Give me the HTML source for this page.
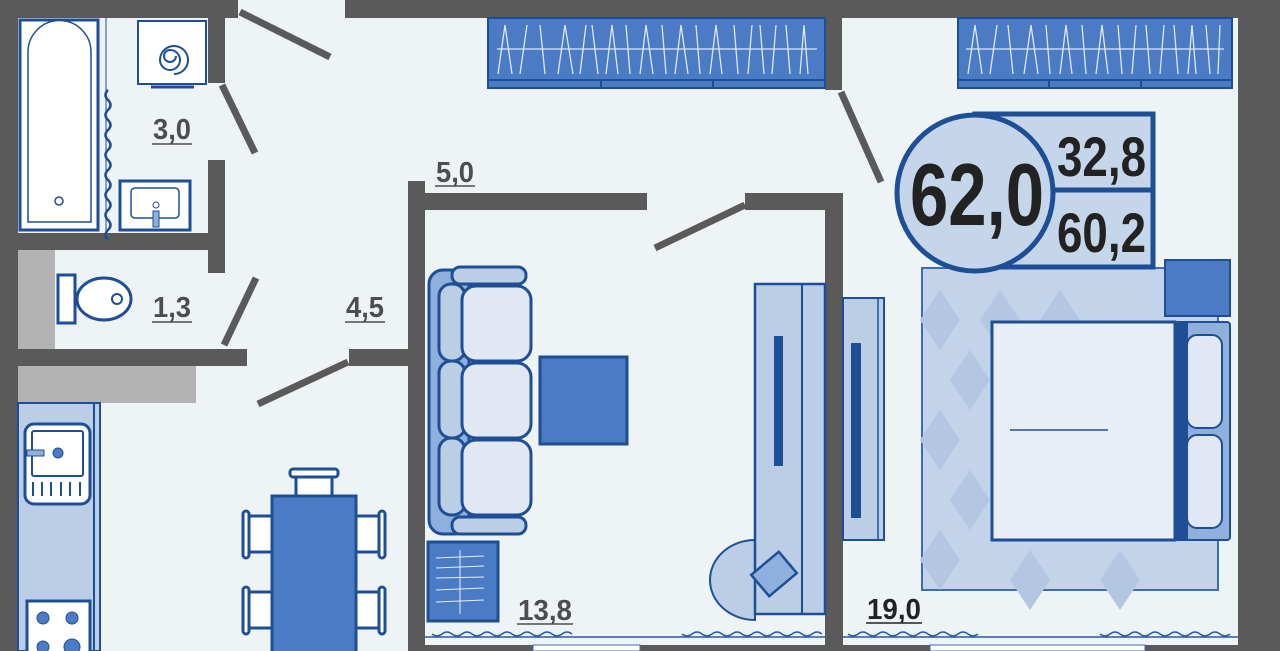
<!DOCTYPE html>
<html><head><meta charset="utf-8"><style>
html,body{margin:0;padding:0;width:1280px;height:651px;overflow:hidden;background:#eef3f6}
svg{display:block}
.lb{font-family:"Liberation Sans",sans-serif;fill:#4d4d4d;font-size:29px;font-weight:bold}
</style></head><body>
<svg width="1280" height="651" viewBox="0 0 1280 651" xmlns="http://www.w3.org/2000/svg">
<rect width="1280" height="651" fill="#eef3f6"/>
<rect x="18" y="250" width="37" height="99" fill="#b3b3b3"/>
<rect x="18" y="366" width="178" height="37" fill="#b3b3b3"/>
<rect x="922" y="268" width="296" height="322" fill="#c2d3ea" stroke="#3f6db3" stroke-width="2"/>
<g fill="#b3c6e2">
<path d="M940 290 l20 30 -20 30 -20-30z M1000 290 l20 30 -20 30 -20-30z M1060 290 l20 30 -20 30 -20-30z M970 350 l20 30 -20 30 -20-30z M940 410 l20 30 -20 30 -20-30z M970 470 l20 30 -20 30 -20-30z M940 530 l20 30 -20 30 -20-30z M1030 550 l20 30 -20 30 -20-30z M1120 550 l20 30 -20 30 -20-30z"/>
</g>
<g fill="#5a5a5a">
<rect x="0" y="0" width="18" height="651"/>
<rect x="0" y="0" width="238" height="18"/>
<rect x="345" y="0" width="935" height="18"/>
<rect x="1238" y="0" width="42" height="651"/>
<rect x="208" y="0" width="17" height="83"/>
<rect x="208" y="160" width="17" height="113"/>
<rect x="18" y="233" width="207" height="17"/>
<rect x="18" y="349" width="229" height="17"/>
<rect x="349" y="349" width="76" height="17"/>
<rect x="408" y="181" width="17" height="470"/>
<rect x="408" y="193" width="239" height="17"/>
<rect x="745" y="193" width="98" height="17"/>
<rect x="825" y="193" width="18" height="458"/>
<rect x="825" y="18" width="17" height="72"/>
<rect x="408" y="645" width="872" height="6"/>
</g>
<rect x="533" y="645" width="107" height="6" fill="#fff" stroke="#3f6db3"/>
<rect x="930" y="645" width="215" height="6" fill="#fff" stroke="#3f6db3"/>
<g stroke="#5a5a5a" stroke-width="7">
<line x1="240" y1="12" x2="330" y2="57"/>
<line x1="222" y1="85" x2="255" y2="153"/>
<line x1="256" y1="278" x2="224" y2="345"/>
<line x1="348" y1="362" x2="258" y2="404"/>
<line x1="745" y1="205" x2="655" y2="248"/>
<line x1="841" y1="92" x2="881" y2="182"/>
</g>
<g stroke="#2a5ba3" stroke-width="1.5" fill="none">
<line x1="425" y1="637" x2="825" y2="637"/>
<line x1="843" y1="637" x2="1238" y2="637"/>
<path d="M432 634 q5 4 10 0 t10 0 t10 0 t10 0 t10 0 t10 0 t10 0 t10 0 t10 0 t10 0 t10 0 t10 0 t10 0 t10 0"/>
<path d="M682 634 q5 4 10 0 t10 0 t10 0 t10 0 t10 0 t10 0 t10 0 t10 0 t10 0 t10 0 t10 0 t10 0 t10 0 t10 0"/>
<path d="M848 634 q5 4 10 0 t10 0 t10 0 t10 0 t10 0 t10 0 t10 0 t10 0 t10 0 t10 0 t10 0 t10 0 t10 0"/>
<path d="M1100 634 q5 4 10 0 t10 0 t10 0 t10 0 t10 0 t10 0 t10 0 t10 0 t10 0 t10 0 t10 0 t10 0 t10 0"/>
</g>
<g stroke="#1e4f96" stroke-width="2">
<rect x="488" y="18" width="337" height="70" fill="#4a7bc4"/>
<rect x="958" y="18" width="274" height="70" fill="#4a7bc4"/>
<line x1="488" y1="80" x2="825" y2="80"/><line x1="958" y1="80" x2="1232" y2="80"/>
<line x1="601" y1="80" x2="601" y2="88"/><line x1="713" y1="80" x2="713" y2="88"/>
<line x1="1049" y1="80" x2="1049" y2="88"/><line x1="1141" y1="80" x2="1141" y2="88"/>
</g>
<g stroke="#dfe8f5" stroke-width="1.3" fill="none">
<line x1="497" y1="49" x2="817" y2="49"/><line x1="966" y1="49" x2="1224" y2="49"/>
<path d="M498 74 L505 25 L512 74 M520 74 L527 25 M540 25 L545 74 M558 74 L565 25 L573 74 M580 74 L586 25 M592 25 L598 74 M606 74 L612 25 L618 74 M626 25 L630 74 M640 74 L646 25 L653 74 M662 25 L666 74 M675 74 L681 25 L688 74 M696 25 L700 74 M710 74 L716 25 L722 74 M734 25 L738 74 M748 74 L752 25 M760 25 L764 74 M772 74 L776 25 M786 25 L790 74 M800 74 L804 25 L808 74"/>
<path d="M968 74 L975 25 L982 74 M990 74 L997 25 M1008 25 L1013 74 M1024 74 L1031 25 L1038 74 M1046 25 L1050 74 M1060 74 L1066 25 L1072 74 M1082 25 L1086 74 M1096 74 L1102 25 L1108 74 M1118 25 L1122 74 M1132 74 L1136 25 M1146 25 L1150 74 M1160 74 L1164 25 M1174 25 L1178 74 M1188 74 L1192 25 L1196 74 M1206 25 L1210 74 M1218 74 L1220 25"/>
</g>
<g stroke="#1e4f96" fill="#fff">
<rect x="20" y="20" width="78" height="210" stroke-width="3"/>
<path d="M28 222 V52 a26 26 0 0 1 63 0 V222 z" stroke-width="1.5"/>
<circle cx="59" cy="201" r="4" stroke-width="1.5"/>
<rect x="138" y="21" width="68" height="63" stroke-width="2"/>
<line x1="151" y1="87" x2="194" y2="87" stroke-width="3"/>
<rect x="120" y="181" width="70" height="49" stroke-width="3"/>
<rect x="131" y="188" width="48" height="30" rx="4" stroke-width="1.5"/>
</g>
<path d="M176 56 a6 6 0 1 1 -6 -6 a10 10 0 1 1 -10 10 a14 14 0 1 1 14 14" fill="none" stroke="#1e4f96" stroke-width="2"/>
<line x1="106" y1="18" x2="106" y2="233" stroke="#1e4f96" stroke-width="1"/>
<path d="M108 90 q-5 5 0 10 t0 10 t0 10 t0 10 t0 10 t0 10 t0 10 t0 10 t0 10 t0 10 t0 10 t0 10 t0 10 t0 10 t0 10" fill="none" stroke="#1e4f96" stroke-width="2.5"/>
<rect x="153" y="211" width="6" height="16" fill="#8fb0dd" stroke="#1e4f96"/>
<circle cx="156" cy="205" r="3" fill="#fff" stroke="#1e4f96"/>
<g stroke="#1e4f96" stroke-width="3" fill="#fff">
<rect x="58" y="275" width="17" height="48"/>
<ellipse cx="104" cy="299" rx="27" ry="21"/>
<ellipse cx="117" cy="299" rx="5" ry="5" stroke-width="2"/>
</g>
<rect x="18" y="403" width="82" height="248" fill="#bccde6" stroke="#1e4f96" stroke-width="2"/>
<line x1="94" y1="403" x2="94" y2="651" stroke="#1e4f96" stroke-width="2"/>
<rect x="25" y="424" width="65" height="80" rx="9" fill="#fff" stroke="#1e4f96" stroke-width="3"/>
<rect x="32" y="431" width="51" height="45" rx="2" fill="#fff" stroke="#1e4f96" stroke-width="2"/>
<circle cx="58" cy="453" r="5" fill="#4a7bc4" stroke="#1e4f96"/>
<rect x="27" y="450" width="17" height="6" fill="#8fb0dd" stroke="#1e4f96"/>
<g stroke="#1e4f96" stroke-width="2"><line x1="33" y1="482" x2="33" y2="496"/><line x1="42" y1="482" x2="42" y2="496"/><line x1="51" y1="482" x2="51" y2="496"/><line x1="61" y1="482" x2="61" y2="496"/><line x1="70" y1="482" x2="70" y2="496"/><line x1="80" y1="482" x2="80" y2="496"/></g>
<rect x="27" y="601" width="63" height="55" fill="#fff" stroke="#1e4f96" stroke-width="3"/>
<g fill="#4a7bc4" stroke="#1e4f96"><circle cx="43" cy="618" r="6"/><circle cx="72" cy="618" r="6"/><circle cx="43" cy="647" r="6"/><circle cx="72" cy="647" r="8"/></g>
<g stroke="#1e4f96" stroke-width="3" fill="#fff">
<rect x="296" y="477" width="36" height="20"/>
<rect x="290" y="469" width="48" height="8" rx="3"/>
<rect x="248" y="516" width="24" height="36"/><rect x="243" y="511" width="6" height="47" rx="3"/>
<rect x="248" y="592" width="24" height="36"/><rect x="243" y="587" width="6" height="47" rx="3"/>
<rect x="356" y="516" width="24" height="36"/><rect x="379" y="511" width="6" height="47" rx="3"/>
<rect x="356" y="592" width="24" height="36"/><rect x="379" y="587" width="6" height="47" rx="3"/>
<rect x="272" y="496" width="84" height="160" fill="#4a7bc4"/>
</g>
<g stroke="#1e4f96" stroke-width="3">
<rect x="429" y="270" width="40" height="264" rx="14" fill="#8fb0dd"/>
<rect x="452" y="267" width="74" height="17" rx="8" fill="#bccde6"/>
<rect x="452" y="517" width="74" height="17" rx="8" fill="#bccde6"/>
<rect x="439" y="284" width="26" height="77" rx="12" fill="#bccde6"/>
<rect x="439" y="361" width="26" height="77" rx="12" fill="#bccde6"/>
<rect x="439" y="438" width="26" height="77" rx="12" fill="#bccde6"/>
<rect x="462" y="286" width="69" height="75" rx="14" fill="#e1e8f3"/>
<rect x="462" y="363" width="69" height="75" rx="14" fill="#e1e8f3"/>
<rect x="462" y="440" width="69" height="75" rx="14" fill="#e1e8f3"/>
<rect x="540" y="357" width="87" height="87" fill="#4a7bc4"/>
<rect x="428" y="542" width="70" height="79" fill="#4a7bc4"/>
</g>
<g stroke="#e6eef8" stroke-width="1"><line x1="436" y1="558" x2="484" y2="556"/><line x1="436" y1="568" x2="484" y2="566"/><line x1="436" y1="578" x2="484" y2="577"/><line x1="436" y1="590" x2="484" y2="588"/><line x1="436" y1="602" x2="484" y2="600"/><line x1="460" y1="550" x2="460" y2="614"/></g>
<path d="M755 540 a45 40 0 0 0 0 80 z" fill="#bccde6" stroke="#1e4f96" stroke-width="2"/>
<rect x="755" y="284" width="70" height="330" fill="#bccde6" stroke="#1e4f96" stroke-width="2.5"/>
<line x1="802" y1="284" x2="802" y2="614" stroke="#1e4f96" stroke-width="2"/>
<rect x="774" y="336" width="9" height="130" fill="#1e4f96"/>
<rect x="756" y="560" width="36" height="28" fill="#8fb0dd" stroke="#1e4f96" stroke-width="2.5" transform="rotate(-40 774 574)"/>
<rect x="843" y="298" width="41" height="242" fill="#bccde6" stroke="#1e4f96" stroke-width="2"/>
<line x1="878" y1="298" x2="878" y2="540" stroke="#1e4f96" stroke-width="1.5"/>
<rect x="851" y="343" width="10" height="175" fill="#1e4f96"/>
<rect x="1165" y="260" width="65" height="56" fill="#4a7bc4" stroke="#1e4f96" stroke-width="2"/>
<rect x="1175" y="322" width="55" height="218" rx="3" fill="#8fb0dd" stroke="#1e4f96" stroke-width="2"/>
<rect x="1187" y="335" width="35" height="93" rx="10" fill="#e1e8f3" stroke="#1e4f96" stroke-width="2"/>
<rect x="1187" y="435" width="35" height="93" rx="10" fill="#e1e8f3" stroke="#1e4f96" stroke-width="2"/>
<rect x="992" y="322" width="183" height="218" fill="#e8eef7" stroke="#1e4f96" stroke-width="3"/>
<rect x="1175" y="322" width="13" height="218" fill="#1e4f96"/>
<line x1="1010" y1="430" x2="1108" y2="430" stroke="#1e4f96" stroke-width="1.5"/>
<rect x="975" y="114" width="178" height="153" fill="#c5d5ea" stroke="#1e4f96" stroke-width="5"/>
<line x1="1040" y1="190" x2="1153" y2="190" stroke="#1e4f96" stroke-width="5"/>
<circle cx="975" cy="193" r="78" fill="#c5d5ea" stroke="#1e4f96" stroke-width="5"/>
<text x="910" y="225" font-family="Liberation Sans,sans-serif" font-weight="bold" font-size="88" fill="#222" textLength="134" lengthAdjust="spacingAndGlyphs">62,0</text>
<text x="1057" y="176" font-family="Liberation Sans,sans-serif" font-weight="bold" font-size="56" fill="#222" textLength="89" lengthAdjust="spacingAndGlyphs">32,8</text>
<text x="1057" y="252" font-family="Liberation Sans,sans-serif" font-weight="bold" font-size="56" fill="#222" textLength="89" lengthAdjust="spacingAndGlyphs">60,2</text>
<text x="153" y="139" textLength="38" lengthAdjust="spacingAndGlyphs" class="lb">3,0</text>
<text x="153" y="317" textLength="38" lengthAdjust="spacingAndGlyphs" class="lb">1,3</text>
<text x="346" y="317" textLength="38" lengthAdjust="spacingAndGlyphs" class="lb">4,5</text>
<text x="436" y="182" textLength="38" lengthAdjust="spacingAndGlyphs" class="lb">5,0</text>
<text x="518" y="620" textLength="54" lengthAdjust="spacingAndGlyphs" class="lb">13,8</text>
<text x="867" y="619" textLength="54" lengthAdjust="spacingAndGlyphs" class="lb" style="fill:#222">19,0</text>
<g stroke="#4d4d4d" stroke-width="1.5">
<line x1="152" y1="144" x2="192" y2="144"/><line x1="152" y1="322" x2="192" y2="322"/>
<line x1="345" y1="322" x2="385" y2="322"/><line x1="435" y1="186" x2="475" y2="186"/>
<line x1="517" y1="624" x2="573" y2="624"/><line x1="866" y1="623" x2="922" y2="623" stroke="#222"/>
</g>
</svg>
</body></html>
